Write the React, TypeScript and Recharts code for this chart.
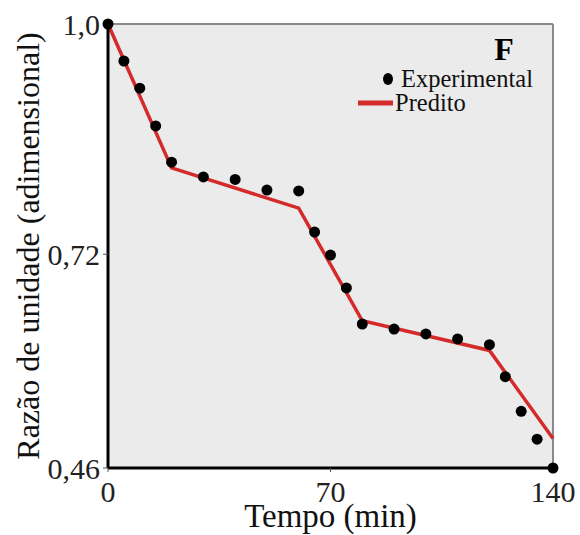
import React from "react";
import {
  ComposedChart,
  Scatter,
  Line,
  XAxis,
  YAxis,
  CartesianGrid,
  ReferenceLine,
} from "recharts";

const expTime = [0, 5, 10, 15, 20, 30, 40, 50, 60, 65, 70, 75, 80, 90, 100, 110, 120, 125, 130, 135, 140];
const expValue = [1.0, 0.955, 0.922, 0.876, 0.832, 0.814, 0.811, 0.798, 0.797, 0.747, 0.719, 0.679, 0.635, 0.629, 0.623, 0.617, 0.61, 0.571, 0.529, 0.495, 0.46];

const predTime = [0, 20, 60, 80, 120, 140];
const predValue = [1.0, 0.825, 0.776, 0.639, 0.603, 0.496];

const xTicks = [0, 70, 140];
const yTicks = [0.46, 0.72, 1.0];

const FONT = '"Liberation Serif", "Times New Roman", serif';

const experimental = expTime.map((t, i) => ({ t, v: expValue[i] }));
const predicted = predTime.map((t, i) => ({ t, p: predValue[i] }));

const fmtY = (v: number) => (v === 1 ? "1,0" : String(v).replace(".", ","));

const Dot = (props: any) => {
  const { cx, cy } = props;
  if (cx == null || cy == null) return null;
  return <circle cx={cx} cy={cy} r={5.5} fill="#000" />;
};

// legend and panel letter, drawn over the plot
const LegendBox = () => (
  <svg width={580} height={535} style={{ position: "absolute", left: 0, top: 0, pointerEvents: "none", fontFamily: FONT }}>
    <text x={504} y={60} textAnchor="middle" style={{ fontFamily: FONT }} fontWeight="bold" fontSize={32} fill="#000">
      F
    </text>
    <ellipse cx={388} cy={79} rx={5} ry={6} fill="#000" />
    <text x={401} y={87} style={{ fontFamily: FONT }} fontSize={24.5} fill="#111">
      Experimental
    </text>
    <line x1={358} y1={103} x2={393} y2={103} stroke="#d42a2a" strokeWidth={5} />
    <text x={395} y={111} style={{ fontFamily: FONT }} fontSize={24.5} fill="#111">
      Predito
    </text>
  </svg>
);

const App = () => {
  return (
    <div style={{ position: "absolute", left: 0, top: 0, width: 580, height: 535, background: "#fff", fontFamily: FONT }}>
      <ComposedChart
        width={580}
        height={535}
        margin={{ top: 24, right: 27, left: 0, bottom: 0 }}
        style={{ fontFamily: FONT }}
      >
        <CartesianGrid fill="#ebebeb" horizontal={false} vertical={false} />
        <XAxis
          type="number"
          dataKey="t"
          domain={[0, 140]}
          ticks={xTicks}
          height={67}
          axisLine={{ stroke: "#000", strokeWidth: 3 }}
          tickLine={{ stroke: "#555" }}
          tickSize={4}
          tickMargin={9}
          tick={{ fontSize: 30, fill: "#222", style: { fontFamily: FONT } }}
          label={{
            content: ({ viewBox }: any) => (
              <text
                x={viewBox.x + viewBox.width / 2}
                y={viewBox.y + 59}
                textAnchor="middle"
                style={{ fontFamily: FONT }}
                fontSize={33}
                fill="#111"
              >
                Tempo (min)
              </text>
            ),
          }}
        />
        <YAxis
          type="number"
          domain={[0.46, 1.0]}
          ticks={yTicks}
          width={108}
          tickFormatter={fmtY}
          axisLine={{ stroke: "#000", strokeWidth: 3 }}
          tickLine={{ stroke: "#555" }}
          tickSize={5}
          tickMargin={3}
          tick={{ fontSize: 30, fill: "#222", style: { fontFamily: FONT } }}
          label={{
            content: ({ viewBox }: any) => {
              const cy = viewBox.y + viewBox.height / 2;
              return (
                <text
                  x={39}
                  y={cy}
                  transform={`rotate(-90, 39, ${cy})`}
                  textAnchor="middle"
                  style={{ fontFamily: FONT }}
                  fontSize={32}
                  fill="#111"
                >
                  Razão de unidade (adimensional)
                </text>
              );
            },
          }}
        />
        <ReferenceLine y={1.0} stroke="#8a8a8a" strokeWidth={2} />
        <ReferenceLine x={140} stroke="#8a8a8a" strokeWidth={2} />
        <Scatter
          name="Experimental"
          data={experimental}
          dataKey="v"
          shape={Dot}
          isAnimationActive={false}
        />
        <Line
          name="Predito"
          data={predicted}
          dataKey="p"
          type="linear"
          stroke="#d42a2a"
          strokeWidth={3.5}
          dot={false}
          activeDot={false}
          isAnimationActive={false}
        />
      </ComposedChart>
      <LegendBox />
    </div>
  );
};

export default App;
